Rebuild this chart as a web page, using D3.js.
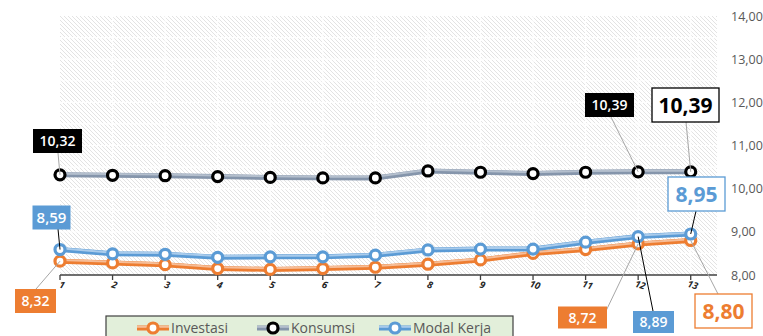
<!DOCTYPE html>
<html>
<head>
<meta charset="utf-8">
<script src="https://cdn.jsdelivr.net/npm/d3@7"></script>
<style>
  body { margin: 0; background: #fff; }
  svg { display: block; font-family: "Open Sans", "Noto Sans", sans-serif; }
</style>
</head>
<body>
<div id="chart"></div>
<script>
const WIDTH = 763;
const HEIGHT = 336;

// datos
const periods = [1, 2, 3, 4, 5, 6, 7, 8, 9, 10, 11, 12, 13];
const investasi = [8.32, 8.28, 8.24, 8.15, 8.13, 8.15, 8.18, 8.25, 8.35, 8.50, 8.59, 8.72, 8.80];
const konsumsi = [10.32, 10.31, 10.30, 10.28, 10.26, 10.25, 10.25, 10.41, 10.38, 10.35, 10.38, 10.39, 10.39];
const modalKerja = [8.59, 8.49, 8.48, 8.41, 8.42, 8.42, 8.46, 8.58, 8.60, 8.60, 8.76, 8.89, 8.95];
const yTicks = [8, 9, 10, 11, 12, 13, 14];
const seriesNames = ["Investasi", "Konsumsi", "Modal Kerja"];

const series = [
    { name: seriesNames[0], values: investasi, color: "#ed7d31", light: "#f6bd97", marker: "#ed7d31" },
    { name: seriesNames[1], values: konsumsi, color: "#8595ab", light: "#b4bfcd", marker: "#000000" },
    { name: seriesNames[2], values: modalKerja, color: "#5b9bd5", light: "#a9cbeb", marker: "#5b9bd5" }
];

const fmt = v => d3.format(".2f")(v).replace(".", ",");

const svg = d3.select("#chart").append("svg")
    .attr("width", WIDTH)
    .attr("height", HEIGHT);

const x = d3.scaleLinear().domain([1, 13.5]).range([60, 717]);
const y = d3.scaleLinear().domain([8, 14]).range([275, 16]);

// fondo rayado
const defs = svg.append("defs");
const pat = defs.append("pattern")
    .attr("id", "hatch")
    .attr("patternUnits", "userSpaceOnUse")
    .attr("width", 4).attr("height", 4);
pat.append("rect").attr("width", 4).attr("height", 4).attr("fill", "#ffffff");
pat.append("path")
    .attr("d", "M-1,-1 L5,5 M-1,3 L1,5 M3,-1 L5,1")
    .attr("stroke", "#e3e3e3")
    .attr("stroke-width", 1);

svg.append("rect")
    .attr("x", x(1)).attr("y", y(14))
    .attr("width", x(13.5) - x(1))
    .attr("height", y(8) - y(14))
    .attr("fill", "url(#hatch)");

// grilla blanca
svg.append("g").selectAll("line")
    .data(d3.range(8.5, 14, 0.5))
    .join("line")
    .attr("x1", x(1)).attr("x2", x(13.5))
    .attr("y1", d => y(d)).attr("y2", d => y(d))
    .attr("stroke", "#ffffff").attr("stroke-width", 1.2);

svg.append("g").selectAll("line")
    .data(periods.slice(1))
    .join("line")
    .attr("x1", d => x(d)).attr("x2", d => x(d))
    .attr("y1", y(14)).attr("y2", y(8))
    .attr("stroke", "#ffffff").attr("stroke-width", 1.2);

// eje y (solo etiquetas)
svg.append("g").selectAll("text")
    .data(yTicks)
    .join("text")
    .attr("x", 731)
    .attr("y", d => y(d) + 4.5)
    .attr("font-size", 12.5)
    .attr("fill", "#595959")
    .text(d => fmt(d));

// eje x
const xAxis = svg.append("g").attr("transform", `translate(0,${y(8)})`);
xAxis.append("line")
    .attr("x1", x(1)).attr("x2", x(13.5))
    .attr("stroke", "#404040").attr("stroke-width", 1.5);
xAxis.selectAll(".tick")
    .data(periods)
    .join("line")
    .attr("x1", d => x(d)).attr("x2", d => x(d))
    .attr("y1", 0).attr("y2", 5)
    .attr("stroke", "#404040").attr("stroke-width", 1.3);
xAxis.selectAll("text")
    .data(periods)
    .join("text")
    .attr("transform", d => `translate(${x(d) + 1},${13}) rotate(18)`)
    .attr("text-anchor", "middle")
    .attr("font-size", 9.5)
    .attr("font-style", "italic")
    .attr("font-weight", "bold")
    .attr("fill", "#262626")
    .text(d => d);

// lineas
const line = d3.line().x((d, i) => x(periods[i])).y(d => y(d));

const lines = svg.append("g");
series.forEach(s => {
    lines.append("path")
        .attr("d", line(s.values))
        .attr("fill", "none")
        .attr("stroke", s.color)
        .attr("stroke-width", 5);
    lines.append("path")
        .attr("d", line(s.values))
        .attr("transform", "translate(0,-1.2)")
        .attr("fill", "none")
        .attr("stroke", s.light)
        .attr("stroke-width", 2);
});

// marcadores
series.forEach(s => {
    svg.append("g").selectAll("circle")
        .data(s.values)
        .join("circle")
        .attr("cx", (d, i) => x(periods[i]))
        .attr("cy", d => y(d))
        .attr("r", 5)
        .attr("fill", "#ffffff")
        .attr("stroke", s.marker)
        .attr("stroke-width", 3.2);
});

// etiquetas de datos
const callouts = [
    { s: 1, i: 0, cx: 57.5, cy: 141, w: 49, h: 24, fill: "#000", stroke: "none", text: "#fff", size: 14, lx: 58, ly: 153, lc: "#a6a6a6" },
    { s: 1, i: 11, cx: 609.5, cy: 105, w: 49, h: 24, fill: "#000", stroke: "none", text: "#fff", size: 14, lx: 611, ly: 117, lc: "#a6a6a6" },
    { s: 1, i: 12, cx: 685.5, cy: 105, w: 67, h: 34, fill: "#fff", stroke: "#000", text: "#000", size: 21, lx: 686, ly: 122, lc: "#a6a6a6" },
    { s: 2, i: 0, cx: 51.5, cy: 217.5, w: 38, h: 24, fill: "#5b9bd5", stroke: "none", text: "#fff", size: 15, lx: 58, ly: 229, lc: "#000" },
    { s: 0, i: 0, cx: 35.5, cy: 301, w: 41, h: 24, fill: "#ed7d31", stroke: "none", text: "#fff", size: 14, lx: 36, ly: 289, lc: "#a6a6a6" },
    { s: 2, i: 12, cx: 696.5, cy: 194, w: 57, h: 34, fill: "#fff", stroke: "#5b9bd5", text: "#5b9bd5", size: 21, lx: 696, ly: 211, lc: "#000" },
    { s: 0, i: 11, cx: 582.5, cy: 317.5, w: 49, h: 22, fill: "#ed7d31", stroke: "none", text: "#fff", size: 14, lx: 605, ly: 313, lc: "#a6a6a6" },
    { s: 2, i: 11, cx: 653.5, cy: 322, w: 41, h: 22, fill: "#5b9bd5", stroke: "none", text: "#fff", size: 14, lx: 653, ly: 311, lc: "#000" },
    { s: 0, i: 12, cx: 723.5, cy: 311, w: 57, h: 34, fill: "#fff", stroke: "#ed7d31", text: "#ed7d31", size: 21, lx: 718, ly: 294, lc: "#a6a6a6" }
];

const labels = svg.append("g");
callouts.forEach(c => {
    const v = series[c.s].values[c.i];
    labels.append("line")
        .attr("x1", c.lx).attr("y1", c.ly)
        .attr("x2", x(periods[c.i])).attr("y2", y(v))
        .attr("stroke", c.lc).attr("stroke-width", 1);
    labels.append("rect")
        .attr("x", c.cx - c.w / 2).attr("y", c.cy - c.h / 2)
        .attr("width", c.w).attr("height", c.h)
        .attr("fill", c.fill)
        .attr("stroke", c.stroke)
        .attr("stroke-width", 1.3);
    labels.append("text")
        .attr("x", c.cx).attr("y", c.cy)
        .attr("dy", "0.36em")
        .attr("text-anchor", "middle")
        .attr("font-size", c.size)
        .attr("font-weight", c.size > 16 ? 700 : 600)
        .attr("fill", c.text)
        .text(fmt(v));
});

// leyenda
const legend = svg.append("g");
legend.append("rect")
    .attr("x", 106).attr("y", 316)
    .attr("width", 407).attr("height", 30)
    .attr("fill", "#e2efda")
    .attr("stroke", "#404040")
    .attr("stroke-width", 1.2);

const legendX = [153, 273, 395];
series.forEach((s, k) => {
    const g = legend.append("g").attr("transform", `translate(${legendX[k]},328)`);
    g.append("line").attr("x1", -16).attr("x2", 16)
        .attr("stroke", s.color).attr("stroke-width", 5);
    g.append("line").attr("x1", -16).attr("x2", 16).attr("y1", -1.2).attr("y2", -1.2)
        .attr("stroke", s.light).attr("stroke-width", 2);
    g.append("circle").attr("r", 5)
        .attr("fill", "#fff").attr("stroke", s.marker).attr("stroke-width", 3.2);
    g.append("text")
        .attr("x", 18).attr("y", 5)
        .attr("font-size", 14)
        .attr("fill", "#595959")
        .text(s.name);
});
</script>
</body>
</html>
